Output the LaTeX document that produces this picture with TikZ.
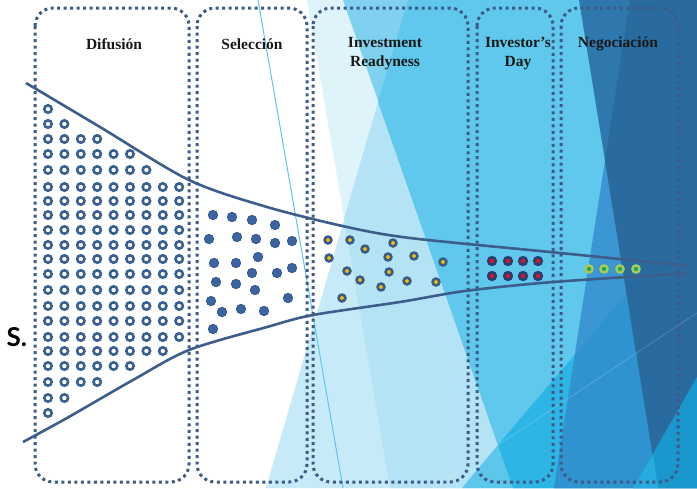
\documentclass[tikz,border=0pt]{standalone}
\usepackage{fontspec}
\setmainfont{Liberation Serif}
\newfontfamily\sfont{Lato}
\usepackage{tikz}

\definecolor{pale}{HTML}{DFF3FB}
\definecolor{lighta}{HTML}{C6EAF8}
\definecolor{lightb}{HTML}{B3E3F5}
\definecolor{medl}{HTML}{80D1F0}
\definecolor{med}{HTML}{5FC8EC}
\definecolor{fleft}{HTML}{5DC6EB}
\definecolor{bright}{HTML}{2DB5E6}
\definecolor{midb}{HTML}{3B96D1}
\definecolor{midbf}{HTML}{2F93D0}
\definecolor{darka}{HTML}{2E78AE}
\definecolor{darkb}{HTML}{296A9F}
\definecolor{teal}{HTML}{1A97CC}
\definecolor{tealb}{HTML}{28ABDF}
\definecolor{thinblue}{HTML}{5EC6EC}
\definecolor{boxblue}{HTML}{3E5A86}
\definecolor{navy}{HTML}{3D5D8B}
\definecolor{ringblue}{HTML}{3A6192}
\definecolor{selblue}{HTML}{3C64A0}
\definecolor{dotyellow}{HTML}{F5C400}
\definecolor{dotred}{HTML}{E8141E}
\definecolor{rednavy}{HTML}{2E3D70}
\definecolor{dotgreen}{HTML}{22AA4A}
\definecolor{ringgreen}{HTML}{A5C95F}

\begin{document}
\begin{tikzpicture}[x=1pt, y=-1pt,
    stage/.style = {draw=boxblue, line width=3pt, dash pattern=on 3pt off 3.5pt, rounded corners=18pt},
    funnel/.style = {draw=navy, line width=2.6pt},
    title/.style = {font=\fontsize{15.5}{19}\selectfont\bfseries, align=center, text=black!90},
    ring/.style = {draw=ringblue, line width=2.6pt, fill=white},
    seldot/.style = {fill=selblue, draw=selblue!80!black, line width=0.6pt},
    irdot/.style = {fill=dotyellow, draw=boxblue, line width=2.6pt},
    iddot/.style = {fill=dotred, draw=rednavy, line width=2.8pt},
    negdot/.style = {fill=dotgreen, draw=ringgreen, line width=2.4pt}]
    \useasboundingbox (0,0) rectangle (697,488);
    \fill[white] (0,0) rectangle (697,488);

    % background facets
    \fill[pale] (307,0) -- (390,488) -- (697,488) -- (697,0) -- cycle;
    \fill[lighta] (408,0) -- (266,488) -- (697,488) -- (697,0) -- cycle;
    \fill[lightb] (408,0) -- (344,219) -- (390,488) -- (697,488) -- (697,0) -- cycle;
    \fill[medl] (343,0) -- (513,488) -- (697,488) -- (697,0) -- cycle;
    \fill[med] (408,0) -- (378,102) -- (513,488) -- (697,488) -- (697,0) -- cycle;
    \fill[fleft] (462,488) -- (498,445) -- (513,488) -- cycle;
    \fill[bright] (498,445) -- (627,293) -- (658,488) -- (513,488) -- cycle;
    \fill[midb] (630,0) -- (554,488) -- (697,488) -- (697,0) -- cycle;
    \fill[midbf] (575,355) -- (627,293) -- (658,488) -- (554,488) -- cycle;
    \fill[darka] (579,0) -- (658,488) -- (697,488) -- (697,0) -- cycle;
    \fill[darkb] (630,0) -- (605,160) -- (658,488) -- (697,488) -- (697,0) -- cycle;
    \fill[teal] (697,377) -- (633,488) -- (697,488) -- cycle;
    \fill[tealb] (653,454) -- (633,488) -- (658,488) -- cycle;
    \draw[thinblue, line width=1pt] (258,0) -- (343,488);
    \draw[white, opacity=0.18, line width=0.8pt] (433,488) -- (697,313);

    % stages
    \draw[stage] (35,8) rectangle (189,482);
    \draw[stage] (197,8) rectangle (307,482);
    \draw[stage] (313,8) rectangle (468,482);
    \draw[stage] (477,8) rectangle (553,482);
    \draw[stage] (561,8) rectangle (678,482);

    \node[title] (dif) at (114,44) {Difusión};
    \node[title] (sel) at (252,44) {Selección};
    \node[title] (inv) at (385,53.5) {Investment\\Readyness};
    \node[title] (day) at (518,53.5) {Investor’s\\Day};
    \node[title] (neg) at (618,44) {Negociación};

    % funnel
    \draw[funnel] plot[smooth, tension=0.5] coordinates {(26,83) (100,127) (189,180) (267,207) (347,227) (410,238) (550,252) (690,266)};
    \draw[funnel] plot[smooth, tension=0.5] coordinates {(23,442) (67,418) (133,380) (189,350) (267,327) (313,315) (400,302) (465,291) (553,282) (690,273)};

    % dots
    \foreach \y/\n in {109/1, 124/2, 139/4, 154/6, 170/7, 187/9, 201/9, 215/9, 230/9, 245/9, 259/9, 274/9, 290/9, 306/9, 321/9, 337/9, 351/8, 366/6, 382/4, 398/2, 413/1}
        \foreach \i in {1,...,\n}
            \draw[ring] ({48+16.4*(\i-1)},\y) circle (3.7);
    \foreach \x/\y in {213/215, 232/217, 252/220, 275/225, 209/239, 237/237, 256/239, 275/243, 292/241, 214/263, 236/263, 258/257, 252/273, 277/273, 292/268, 216/282, 236/284, 255/290, 211/301, 222/312, 241/309, 264/311, 288/298, 213/329}
        \draw[seldot] (\x,\y) circle (4.8);
    \foreach \x/\y in {328/240, 350/240, 365/249, 393/243, 329/258, 388/257, 414/256, 443/262, 347/271, 389/272, 360/280, 381/287, 407/281, 436/282, 342/298}
        \draw[irdot] (\x,\y) circle (3.4);
    \foreach \x in {492, 508, 523, 538}
        \foreach \y in {261, 276}
            \draw[iddot] (\x,\y) circle (3.7);
    \foreach \x in {589, 604, 620, 636}
        \draw[negdot] (\x,269) circle (3.6);

    \node[anchor=base west, font=\sfont\bfseries\fontsize{26}{28}\selectfont] (s) at (3,346) {S.};
\end{tikzpicture}
\end{document}
